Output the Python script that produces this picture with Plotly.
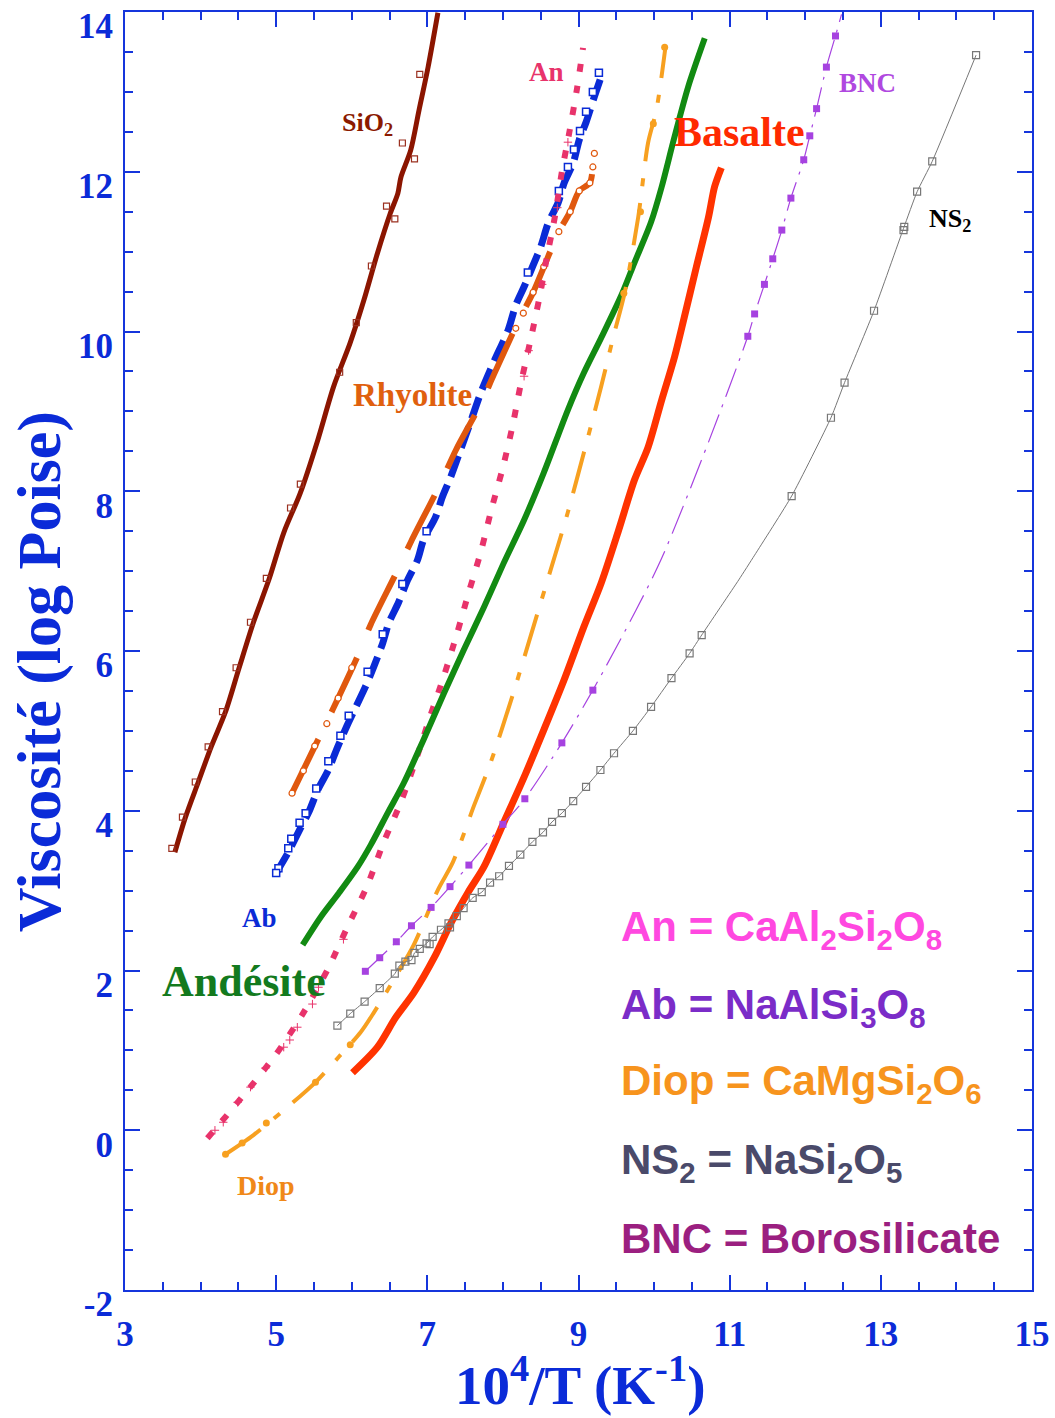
import plotly.graph_objects as go

# ---------------- data ----------------
# SiO2
sio2_x = [3.66, 3.80, 3.97, 4.14, 4.33, 4.51, 4.70, 4.91, 5.10, 5.32, 5.55, 5.76, 5.98, 6.16, 6.34, 6.51, 6.61, 6.65, 6.78, 6.89, 7.01, 7.14]
sio2_y = [3.48, 3.92, 4.36, 4.80, 5.24, 5.79, 6.36, 6.91, 7.48, 7.98, 8.64, 9.31, 9.86, 10.39, 10.98, 11.48, 11.73, 11.93, 12.27, 12.77, 13.31, 13.99]
sio2_mx = [3.62, 3.76, 3.93, 4.10, 4.29, 4.47, 4.66, 4.87, 5.19, 5.32, 5.84, 6.06, 6.26, 6.46, 6.57, 6.67, 6.83, 6.90]
sio2_my = [3.53, 3.92, 4.36, 4.80, 5.24, 5.79, 6.36, 6.91, 7.79, 8.09, 9.49, 10.11, 10.82, 11.57, 11.41, 12.36, 12.16, 13.22]

# Ab (albite)
ab_x = [5.00, 5.16, 5.32, 5.43, 5.55, 5.69, 5.81, 5.94, 6.05, 6.18, 6.29, 6.41, 6.49, 6.62, 6.74, 6.87, 6.95, 7.11, 7.20,
        7.31, 7.44, 7.58, 7.71, 7.88, 8.07, 8.17, 8.28, 8.40, 8.50, 8.60, 8.73, 8.81, 8.93, 9.01, 9.10, 9.21, 9.30]
ab_y = [3.22, 3.48, 3.78, 3.98, 4.26, 4.51, 4.79, 5.07, 5.29, 5.55, 5.80, 6.10, 6.35, 6.61, 6.89, 7.14, 7.39, 7.68, 7.93,
        8.18, 8.52, 8.89, 9.24, 9.62, 10.02, 10.33, 10.56, 10.83, 11.06, 11.36, 11.61, 11.86, 12.11, 12.40, 12.62, 12.94, 13.19]
ab_mx = [5.03, 5.00, 5.16, 5.20, 5.31, 5.39, 5.53, 5.69, 5.85, 5.96, 6.21, 6.41, 6.67, 6.99, 8.33, 8.74, 8.86, 8.94, 9.02, 9.10, 9.19, 9.27]
ab_my = [3.28, 3.22, 3.53, 3.65, 3.85, 3.97, 4.28, 4.62, 4.94, 5.19, 5.74, 6.21, 6.84, 7.50, 10.74, 11.76, 12.06, 12.28, 12.51, 12.75, 13.00, 13.24]

# Rhyolite
rhy_x = [5.21, 5.56, 5.75, 6.08, 6.25, 6.59, 6.79, 7.15, 7.38, 7.71, 7.88, 8.21, 8.40, 8.74, 8.89, 9.01, 9.15, 9.19, 9.21]
rhy_y = [4.22, 4.90, 5.27, 5.94, 6.33, 6.98, 7.38, 8.05, 8.52, 9.10, 9.46, 10.14, 10.49, 11.25, 11.50, 11.76, 11.86, 12.06, 12.23]
rhy_mx = [5.21, 5.36, 5.51, 5.67, 5.82, 6.00, 8.17, 8.27, 8.40, 8.54, 8.74, 8.89, 9.01, 9.15, 9.19, 9.21]
rhy_my = [4.22, 4.50, 4.81, 5.09, 5.41, 5.79, 10.04, 10.23, 10.49, 10.81, 11.25, 11.50, 11.76, 11.86, 12.06, 12.23]

# An (anorthite)
an_x = [4.09, 4.57, 4.99, 5.36, 5.69, 5.94, 6.20, 6.42, 6.65, 6.85, 7.03, 7.22, 7.39, 7.55, 7.71, 7.85, 8.00, 8.13,
        8.24, 8.36, 8.48, 8.58, 8.69, 8.78, 8.88, 8.98, 9.06]
an_y = [-0.10, 0.44, 0.94, 1.47, 2.03, 2.54, 3.05, 3.60, 4.11, 4.64, 5.16, 5.69, 6.21, 6.74, 7.25, 7.78, 8.30, 8.83,
        9.36, 9.87, 10.41, 10.92, 11.45, 12.00, 12.50, 13.04, 13.55]
an_mx = [4.19, 4.30, 4.49, 4.66, 4.86, 5.10, 5.18, 5.28, 5.48, 5.56, 5.89, 8.28, 8.34, 8.52, 8.72, 8.86]
an_my = [0.00, 0.10, 0.35, 0.54, 0.78, 1.04, 1.13, 1.29, 1.58, 1.79, 2.39, 9.44, 9.76, 10.59, 11.55, 12.37]

# Andesite
and_x = [5.35, 5.59, 5.83, 6.08, 6.25, 6.48, 6.69, 6.95, 7.22, 7.48, 7.75, 8.01, 8.28, 8.54, 8.86, 9.07, 9.30, 9.57,
         9.74, 9.96, 10.10, 10.26, 10.45, 10.67]
and_y = [2.32, 2.67, 2.97, 3.30, 3.57, 3.98, 4.35, 4.89, 5.47, 6.01, 6.55, 7.10, 7.64, 8.23, 9.02, 9.48, 9.92, 10.46,
         10.86, 11.37, 11.81, 12.40, 13.06, 13.67]

# Diopside
diop_x = [4.33, 4.70, 5.15, 5.52, 5.83, 6.12, 6.29, 6.61, 6.82, 7.14, 7.34, 7.62, 7.84, 8.13, 8.46, 8.70, 8.86, 9.07,
          9.30, 9.46, 9.61, 9.79, 9.92, 10.03, 10.15]
diop_y = [-0.30, -0.06, 0.29, 0.60, 0.92, 1.23, 1.47, 1.97, 2.32, 3.01, 3.36, 4.07, 4.61, 5.45, 6.48, 7.23, 7.74, 8.48,
          9.31, 9.93, 10.48, 11.43, 12.36, 12.77, 13.56]
diop_mx = [4.33, 4.55, 4.87, 5.52, 5.98, 9.60, 9.82, 9.99, 10.14]
diop_my = [-0.30, -0.16, 0.09, 0.60, 1.07, 10.48, 11.50, 12.60, 13.56]

# Basalte
bas_x = [6.01, 6.34, 6.58, 6.82, 7.09, 7.31, 7.54, 7.75, 8.01, 8.28, 8.54, 8.81, 9.07, 9.30, 9.53, 9.74, 9.92, 10.10,
         10.27, 10.40, 10.56, 10.72, 10.80, 10.89]
bas_y = [0.72, 1.04, 1.41, 1.72, 2.16, 2.59, 2.98, 3.30, 3.85, 4.42, 5.01, 5.64, 6.30, 6.85, 7.51, 8.14, 8.55, 9.14,
         9.68, 10.18, 10.81, 11.43, 11.81, 12.05]

# BNC (borosilicate)
bnc_x = [6.18, 6.37, 6.59, 6.79, 7.05, 7.30, 7.55, 8.00, 8.29, 8.78, 9.19, 9.76, 10.10, 10.73, 11.24, 11.33, 11.46,
         11.57, 11.69, 11.81, 11.98, 12.06, 12.15, 12.28, 12.40, 12.48]
bnc_y = [1.99, 2.16, 2.36, 2.56, 2.79, 3.05, 3.32, 3.83, 4.15, 4.85, 5.51, 6.51, 7.16, 8.64, 9.94, 10.22, 10.59,
         10.91, 11.27, 11.67, 12.15, 12.45, 12.79, 13.31, 13.70, 13.97]
bnc_mx = [6.18, 6.37, 6.59, 6.79, 7.05, 7.30, 7.55, 8.00, 8.29, 8.78, 9.19, 11.24, 11.33, 11.46, 11.57, 11.69, 11.81,
          11.98, 12.06, 12.15, 12.28, 12.40]
bnc_my = [1.99, 2.16, 2.36, 2.56, 2.79, 3.05, 3.32, 3.83, 4.15, 4.85, 5.51, 9.94, 10.22, 10.59, 10.91, 11.27, 11.67,
          12.15, 12.45, 12.79, 13.31, 13.70]

# NS2
ns2_x = [5.81, 5.98, 6.17, 6.37, 6.57, 6.63, 6.71, 6.79, 6.83, 6.90, 6.99, 7.07, 7.18, 7.28, 7.39, 7.48, 7.60, 7.72,
         7.83, 7.95, 8.08, 8.23, 8.39, 8.53, 8.65, 8.78, 8.93, 9.10, 9.29, 9.47, 9.72, 9.96, 10.23, 10.47, 10.63,
         11.12, 11.33, 11.82, 12.34, 12.52, 12.91, 13.30, 13.48, 13.68, 14.26]
ns2_y = [1.31, 1.46, 1.61, 1.78, 1.96, 2.06, 2.11, 2.13, 2.22, 2.27, 2.34, 2.42, 2.51, 2.59, 2.68, 2.78, 2.91, 2.98,
         3.10, 3.18, 3.31, 3.45, 3.61, 3.73, 3.86, 3.97, 4.12, 4.30, 4.51, 4.72, 5.00, 5.30, 5.66, 5.97, 6.20,
         6.89, 7.20, 7.94, 8.92, 9.36, 10.26, 11.29, 11.75, 12.13, 13.46]
ns2_mx = [5.81, 5.98, 6.17, 6.37, 6.57, 6.63, 6.71, 6.79, 6.83, 6.90, 6.99, 7.03, 7.07, 7.18, 7.28, 7.30, 7.39, 7.48,
          7.60, 7.72, 7.83, 7.95, 8.08, 8.23, 8.39, 8.53, 8.65, 8.78, 8.93, 9.10, 9.29, 9.47, 9.72, 9.96, 10.23,
          10.47, 10.63, 11.82, 12.34, 12.52, 12.91, 13.30, 13.31, 13.48, 13.68, 14.26]
ns2_my = [1.31, 1.46, 1.61, 1.78, 1.96, 2.06, 2.11, 2.13, 2.22, 2.27, 2.34, 2.33, 2.42, 2.51, 2.59, 2.54, 2.68, 2.78,
          2.91, 2.98, 3.10, 3.18, 3.31, 3.45, 3.61, 3.73, 3.86, 3.97, 4.12, 4.30, 4.51, 4.72, 5.00, 5.30, 5.66,
          5.97, 6.20, 7.94, 8.92, 9.36, 10.26, 11.27, 11.31, 11.75, 12.13, 13.46]

# curve labels
label_text = ["SiO<sub>2</sub>", "An", "Rhyolite", "Basalte", "BNC", "NS<sub>2</sub>", "Ab", "Andésite", "Diop"]
label_x = [6.21, 8.57, 6.81, 11.13, 12.83, 13.91, 4.78, 4.58, 4.86]
label_y = [12.60, 13.25, 9.20, 12.50, 13.11, 11.40, 2.66, 1.86, -0.69]

# formula notes
note_text = ["An = CaAl<sub>2</sub>Si<sub>2</sub>O<sub>8</sub>", "Ab = NaAlSi<sub>3</sub>O<sub>8</sub>",
             "Diop = CaMgSi<sub>2</sub>O<sub>6</sub>", "NS<sub>2</sub> = NaSi<sub>2</sub>O<sub>5</sub>",
             "BNC = Borosilicate"]
note_y = [2.51, 1.54, 0.59, -0.40, -1.35]

# axis ticks
x_ticks = [3, 5, 7, 9, 11, 13, 15]
y_ticks = [-2, 0, 2, 4, 6, 8, 10, 12, 14]
y_tick_text = ["-2", "0", "2", "4", "6", "8", "10", "12", "14"]

# ---------------- styling ----------------
AX = '#1535DC'
TXT = '#0B2BD8'
SERIF = 'Liberation Serif'
SANS = 'Liberation Sans'

fig = go.Figure()


def add_line(x, y, color, width, dash='solid', smooth=0.8):
    fig.add_trace(go.Scatter(x=x, y=y, mode='lines', hoverinfo='skip',
                             line=dict(color=color, width=width, dash=dash,
                                       shape='spline', smoothing=smooth)))


def add_marks(x, y, symbol, size, fill, edge, ew):
    fig.add_trace(go.Scatter(x=x, y=y, mode='markers', hoverinfo='skip',
                             marker=dict(symbol=symbol, size=size, color=fill,
                                         line=dict(color=edge, width=ew))))


# SiO2
add_line(sio2_x, sio2_y, '#8B1500', 5)
add_marks(sio2_mx, sio2_my, 'square-open', 6, '#9B3020', '#9B3020', 1.2)
# Ab
add_line(ab_x, ab_y, '#0A2BD6', 7, '22px,9px')
add_marks(ab_mx, ab_my, 'square', 7, 'white', '#0A2BD6', 1.5)
# Rhyolite
add_line(rhy_x, rhy_y, '#E0580E', 6, '60px,30px')
add_marks(rhy_mx, rhy_my, 'circle', 6, 'white', '#E0580E', 1.2)
# An
add_line(an_x, an_y, '#E8336B', 6, '8px,14px')
add_marks(an_mx, an_my, 'cross-thin-open', 6, '#E8336B', '#E8336B', 1)
# Andesite
add_line(and_x, and_y, '#128A12', 6)
# Diop
add_line(diop_x, diop_y, '#F7A020', 4, '43px,17px,8px,17px')
add_marks(diop_mx, diop_my, 'circle', 7, '#F7A020', '#F7A020', 0)
# Basalte
add_line(bas_x, bas_y, '#FF3300', 7)
# BNC
add_line(bnc_x, bnc_y, '#A642E0', 1.2, '30px,8px,3px,8px')
add_marks(bnc_mx, bnc_my, 'square', 7, '#A642E0', '#A642E0', 0)
# NS2
add_line(ns2_x, ns2_y, '#777777', 1, 'solid', 0.5)
add_marks(ns2_mx, ns2_my, 'square-open', 7, '#777777', '#777777', 1.2)

label_colors = ['#8B1A00', '#E8336B', '#E0600E', '#FF2A00', '#B048E0', '#000000', '#0A2BD6', '#137A1E', '#F08818']
label_sizes = [26, 27, 33, 42, 27, 26, 27, 44, 28]
annotations = []
for t, x, y, c, s in zip(label_text, label_x, label_y, label_colors, label_sizes):
    annotations.append(dict(x=x, y=y, xref='x', yref='y', text=t, showarrow=False,
                            xanchor='center', yanchor='middle',
                            font=dict(family=SERIF, size=s, color=c, weight='bold')))

note_colors = ['#FF48E0', '#7B2CC8', '#F7941D', '#4A4A6A', '#9B1F80']
for t, y, c in zip(note_text, note_y, note_colors):
    annotations.append(dict(x=9.54, y=y, xref='x', yref='y', text=t, showarrow=False,
                            xanchor='left', yanchor='middle',
                            font=dict(family=SANS, size=42, color=c, weight='bold')))

# axis titles
annotations.append(dict(x=-0.0935, y=0.4836, xref='paper', yref='paper', text='Viscosité (log Poise)',
                        showarrow=False, textangle=-90, xanchor='center', yanchor='middle',
                        font=dict(family=SERIF, size=62, color=TXT, weight='bold')))
annotations.append(dict(x=0.5017, y=-0.0715, xref='paper', yref='paper', text='10<sup>4</sup>/T (K<sup>-1</sup>)',
                        showarrow=False, xanchor='center', yanchor='middle',
                        font=dict(family=SERIF, size=55, color=TXT, weight='bold')))

axis_common = dict(showline=True, linecolor=AX, linewidth=2, mirror='allticks',
                   ticks='inside', ticklen=15, tickwidth=1.5, tickcolor=AX,
                   showgrid=False, zeroline=False, ticklabeloverflow='allow', automargin=False,
                   tickfont=dict(family=SERIF, size=35, color=TXT, weight='bold'))

fig.update_layout(
    width=1055, height=1418,
    margin=dict(l=125, r=23, t=12, b=128, autoexpand=False),
    paper_bgcolor='white', plot_bgcolor='white',
    showlegend=False,
    annotations=annotations,
    xaxis=dict(range=[3, 15], tickmode='array', tickvals=x_ticks, ticklabelstandoff=12,
               minor=dict(dtick=0.5, tick0=3, ticks='inside', ticklen=8, tickwidth=1.5, tickcolor=AX),
               **axis_common),
    yaxis=dict(range=[-2, 14], tickmode='array', tickvals=y_ticks, ticktext=y_tick_text,
               ticklabelstandoff=3, ticklabelshift=14,
               minor=dict(dtick=0.5, tick0=0, ticks='inside', ticklen=8, tickwidth=1.5, tickcolor=AX),
               **axis_common),
)

fig.write_html('out.html')
